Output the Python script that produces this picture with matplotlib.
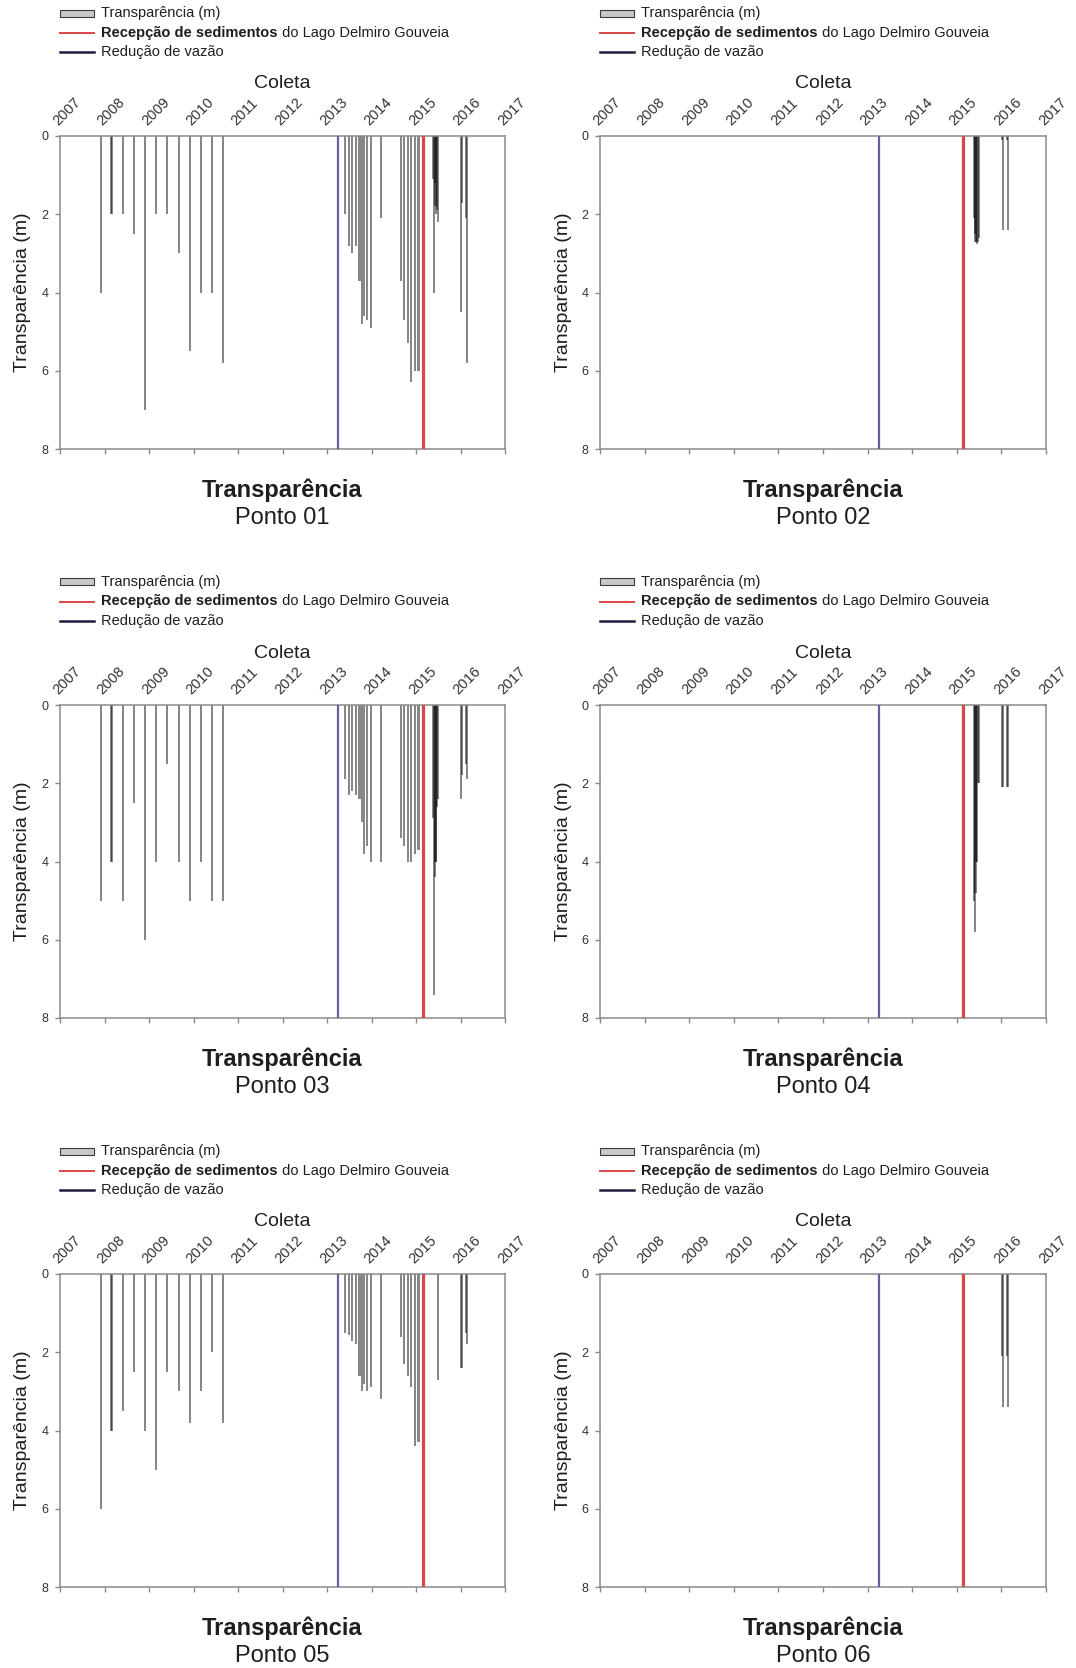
import matplotlib
matplotlib.use("Agg")
import matplotlib.pyplot as plt
import pandas as pd
from matplotlib.patches import Rectangle
from matplotlib.lines import Line2D

plt.rcParams["font.family"] = ["Liberation Sans", "DejaVu Sans"]

# --- sampling calendar -------------------------------------------------------
anos = list(range(2007, 2018))

coletas_2007_2010 = ["2007-12-01", "2008-02-20", "2008-03-05", "2008-06-01",
                     "2008-09-01", "2008-12-01", "2009-03-01", "2009-06-01",
                     "2009-09-01", "2009-12-01", "2010-03-01", "2010-06-01",
                     "2010-09-01"]
coletas_2013_2015 = ["2013-05-30", "2013-06-27", "2013-07-27", "2013-08-24",
                     "2013-09-25", "2013-10-18", "2013-10-30", "2013-11-27",
                     "2013-12-28", "2014-03-22", "2014-08-28", "2014-09-24",
                     "2014-10-24", "2014-11-23", "2014-12-24", "2015-01-22"]
coletas_2015_semanais = ["2015-05-20", "2015-05-27", "2015-06-03", "2015-06-10",
                         "2015-06-17", "2015-06-24", "2015-07-01"]
coletas_2016 = ["2016-01-08", "2016-01-14", "2016-02-18", "2016-02-24"]

reducao_vazao = "2013-04-05"
recepcao_sedimentos = "2015-02-24"

# --- Secchi transparency (m) per sampling point ------------------------------
p01_2007_2010 = [4.0, 2.0, 2.0, 2.0, 2.5, 7.0, 2.0, 2.0, 3.0, 5.5, 4.0, 4.0, 5.8]
p01_2013_2015 = [2.0, 2.8, 3.0, 2.8, 3.7, 4.8, 4.6, 4.7, 4.9, 2.1,
                 3.7, 4.7, 5.3, 6.3, 6.0, 6.0]
p01_2015_sem = [1.1, 4.0, 1.2, 1.8, 2.0, 1.9, 2.2]
p01_2016 = [4.5, 1.7, 2.1, 5.8]

p02_2015_sem = [2.1, 2.5, 2.7, 2.7, 2.75, 2.7, 2.6]
p02_2016 = [0.1, 2.4, 0.1, 2.4]

p03_2007_2010 = [5.0, 4.0, 4.0, 5.0, 2.5, 6.0, 4.0, 1.5, 4.0, 5.0, 4.0, 5.0, 5.0]
p03_2013_2015 = [1.9, 2.3, 2.2, 2.3, 2.4, 3.0, 3.8, 3.6, 4.0, 4.0,
                 3.4, 3.6, 4.0, 4.0, 3.8, 3.7]
p03_2015_sem = [2.9, 7.4, 4.4, 4.0, 4.0, 2.6, 2.4]
p03_2016 = [2.4, 1.8, 1.5, 1.9]

p04_2015_sem = [5.0, 5.8, 4.8, 4.0, 4.0, 2.0, 2.0]
p04_2016 = [2.1, 2.1, 2.1, 2.1]

p05_2007_2010 = [6.0, 4.0, 4.0, 3.5, 2.5, 4.0, 5.0, 2.5, 3.0, 3.8, 3.0, 2.0, 3.8]
p05_2013_2015 = [1.5, 1.55, 1.7, 1.8, 2.6, 3.0, 2.8, 3.0, 2.9, 3.2,
                 1.6, 2.3, 2.6, 2.9, 4.4, 4.3]
p05_2015_sem = [None, None, None, None, None, None, 2.7]
p05_2016 = [2.4, 2.4, 1.5, 1.8]

p06_2016 = [2.1, 3.4, 2.1, 3.4]

pontos = [
    ("Ponto 01", [(coletas_2007_2010, p01_2007_2010), (coletas_2013_2015, p01_2013_2015),
                  (coletas_2015_semanais, p01_2015_sem), (coletas_2016, p01_2016)]),
    ("Ponto 02", [(coletas_2015_semanais, p02_2015_sem), (coletas_2016, p02_2016)]),
    ("Ponto 03", [(coletas_2007_2010, p03_2007_2010), (coletas_2013_2015, p03_2013_2015),
                  (coletas_2015_semanais, p03_2015_sem), (coletas_2016, p03_2016)]),
    ("Ponto 04", [(coletas_2015_semanais, p04_2015_sem), (coletas_2016, p04_2016)]),
    ("Ponto 05", [(coletas_2007_2010, p05_2007_2010), (coletas_2013_2015, p05_2013_2015),
                  (coletas_2015_semanais, p05_2015_sem), (coletas_2016, p05_2016)]),
    ("Ponto 06", [(coletas_2016, p06_2016)]),
]


def ano_decimal(data):
    ts = pd.Timestamp(data)
    dias = 366 if ts.is_leap_year else 365
    return ts.year + (ts.dayofyear - 1) / dias


# --- figure layout (pixels) --------------------------------------------------
W, H = 1076, 1668
fig = plt.figure(figsize=(W / 100, H / 100), dpi=100, facecolor="white")


def fx(px):
    return px / W


def fy(py):
    return 1 - py / H


col_left = [60, 600]
col_width = [445, 446]
row_top = [136, 705, 1274]
ax_h = 313

cinza_eixo = "#8a8a8a"
cor_texto = "#1e1e1e"
cor_barra = "#c9c9c9"
cor_vermelho = "#d9474a"
cor_azul = "#62629f"
cor_marinho = "#1d1d3d"

for i, (nome, series) in enumerate(pontos):
    r, c = divmod(i, 2)
    left, width, top = col_left[c], col_width[c], row_top[r]
    ax = fig.add_axes([fx(left), fy(top + ax_h), width / W, ax_h / H])

    # narrow translucent bars: overlapping samples darken, as in the dense campaigns
    for datas, valores in series:
        xs = [ano_decimal(d) for d, v in zip(datas, valores) if v is not None]
        vs = [v for v in valores if v is not None]
        ax.bar(xs, vs, width=0.048, align="center", color="black", alpha=0.47,
               linewidth=0, zorder=2)

    ax.axvline(ano_decimal(reducao_vazao), color=cor_azul, lw=1.6, zorder=3)
    ax.axvline(ano_decimal(recepcao_sedimentos), color=cor_vermelho, lw=2.3, zorder=3)

    ax.set_xlim(2007, 2017)
    ax.set_ylim(8, 0)
    ax.set_yticks([0, 2, 4, 6, 8])
    ax.set_xticks(anos)
    ax.set_xticklabels([str(a) for a in anos])
    ax.tick_params(axis="x", top=False, labeltop=True, bottom=True, labelbottom=False,
                   direction="out", length=3.5, width=1.0, color=cinza_eixo,
                   labelsize=10.5, labelcolor="#333333", pad=2)
    for lab in ax.get_xticklabels():
        lab.set_rotation(45)
        lab.set_rotation_mode("anchor")
        lab.set_ha("left")
        lab.set_va("bottom")
    ax.tick_params(axis="y", left=True, direction="out", length=3.5, width=1.0,
                   color=cinza_eixo, labelsize=9, labelcolor="#333333", pad=5)
    for sp in ax.spines.values():
        sp.set_color(cinza_eixo)
        sp.set_linewidth(1.1)

    cx = left + width / 2
    fig.text(fx(cx), fy(top - 52), "Coleta", ha="center", va="center",
             fontsize=14, color=cor_texto)
    fig.text(fx(left - 37), fy(top + ax_h / 2), "Transparência (m)", rotation=90,
             ha="center", va="center", fontsize=14, color=cor_texto)
    fig.text(fx(cx), fy(top + ax_h + 41), "Transparência", ha="center", va="center",
             fontsize=17, fontweight="bold", color=cor_texto)
    fig.text(fx(cx), fy(top + ax_h + 69), nome, ha="center", va="center",
             fontsize=17, color=cor_texto)

    # legend block above the axes
    ly = [top - 123, top - 103.5, top - 84]
    hx0, hx1, tx = left, left + 34, left + 41
    fig.add_artist(Rectangle((fx(hx0), fy(ly[0] + 3.5)), 34 / W, 7 / H,
                             transform=fig.transFigure, facecolor=cor_barra,
                             edgecolor="#3a3a3a", linewidth=0.8))
    fig.add_artist(Line2D([fx(hx0), fx(hx1)], [fy(ly[1]), fy(ly[1])],
                          transform=fig.transFigure, color=cor_vermelho, lw=1.4))
    fig.add_artist(Line2D([fx(hx0), fx(hx1)], [fy(ly[2]), fy(ly[2])],
                          transform=fig.transFigure, color=cor_marinho, lw=1.8))
    fig.text(fx(tx), fy(ly[0]), "Transparência (m)", ha="left", va="center",
             fontsize=10.5, color=cor_texto)
    t_bold = fig.text(fx(tx), fy(ly[1]), "Recepção de sedimentos", ha="left",
                      va="center", fontsize=10.5, fontweight="bold", color=cor_texto)
    ax.annotate(" do Lago Delmiro Gouveia", xy=(1, 0), xycoords=t_bold,
                ha="left", va="bottom", fontsize=10.5, color=cor_texto,
                annotation_clip=False)
    fig.text(fx(tx), fy(ly[2]), "Redução de vazão", ha="left", va="center",
             fontsize=10.5, color=cor_texto)

fig.savefig("out.png", dpi=100, facecolor="white")
